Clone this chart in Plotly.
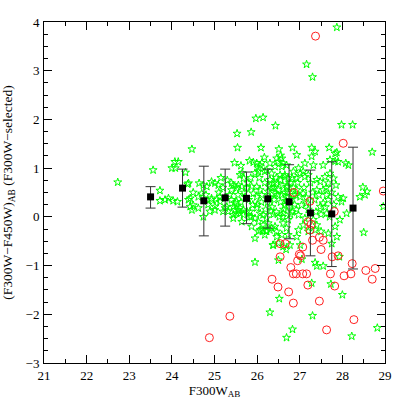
import plotly.graph_objects as go

# green asterisks: all F300W-selected objects (magnitude, colour)
star_mag = [
    22.73, 23.56, 24.47, 24.07, 24.15, 24.00, 24.08, 24.32, 23.72, 24.37, 24.64, 24.50,
    27.87, 27.16, 27.30, 25.97, 26.14, 26.43, 25.53, 25.86, 27.98, 28.24,
    25.54, 26.09, 26.51, 26.83, 27.28, 27.69, 27.87, 28.70, 26.55, 26.93, 26.17, 25.82,
    25.91, 25.47, 25.62, 28.08, 27.83,
    25.95, 26.30, 26.52, 26.83, 26.69, 27.30, 27.28, 27.73, 28.00, 28.22, 28.82, 28.50,
    26.50, 26.37, 26.68, 27.05, 27.36, 27.55, 27.40, 27.93, 26.22,
    25.99, 26.11, 26.30, 26.42, 26.46, 26.03, 26.18, 26.34, 25.60, 25.68, 25.44, 25.56,
    25.52, 25.40, 24.93, 25.01, 25.09, 24.74, 24.39, 24.70, 24.62, 24.43, 24.39, 23.72,
    23.84, 23.92, 24.03, 24.13, 24.43, 24.50, 24.62, 24.47, 24.74, 24.89, 25.01, 25.05,
    25.13, 24.93, 25.40, 25.52, 25.44, 25.56, 25.48, 25.60, 25.44, 25.25, 25.32, 25.68,
    25.76, 25.83, 25.87, 25.99, 25.95, 26.03, 25.76, 25.87, 25.91, 25.99, 26.07, 25.99,
    26.11, 26.30, 26.38, 26.34, 26.42, 26.46, 26.26, 25.72, 26.07, 26.14, 26.22, 26.26,
    26.14, 26.34, 26.46, 26.07, 26.22, 26.38, 26.50,
    26.50, 26.58, 26.69, 26.07, 26.03, 26.22, 26.54, 26.65, 26.73, 26.85, 26.93, 25.40,
    25.64, 24.82, 24.93, 25.13, 25.01, 25.20, 25.29, 25.48, 25.60, 25.52, 25.44, 25.68,
    25.64, 25.83, 25.87, 26.03, 25.95, 26.18, 26.30, 26.46, 26.61, 26.77,
    27.28, 27.36, 27.83, 28.14, 27.12, 27.32, 27.55, 27.71, 27.90, 26.61, 26.97, 27.01,
    27.08, 27.12, 27.20, 27.40, 27.48, 27.59, 27.71, 27.79, 27.67, 27.40, 27.55, 27.63,
    27.67, 27.55, 27.48, 27.90, 28.02, 27.98, 27.94, 27.83, 27.67, 28.41, 28.53, 28.58,
    26.58, 26.65, 26.69, 26.58, 26.65, 26.61, 26.73, 26.69, 26.58, 26.93, 27.01, 27.08,
    27.04, 27.16, 26.97, 27.12, 27.08, 26.97, 27.20, 27.32, 27.40, 27.36, 28.48,
    26.14, 26.42, 26.61, 26.73, 26.93, 27.01, 27.87, 28.10, 27.63, 28.96,
    26.25, 26.30, 26.35, 26.40, 26.45, 26.50, 26.55, 26.60, 26.62, 26.70, 26.72, 26.75,
    26.78, 26.80, 26.82, 26.85, 26.88, 26.90, 26.92, 26.95, 26.40, 26.45, 26.52, 26.55,
    26.28, 26.20, 26.18, 26.10, 26.05, 26.00, 26.48, 26.65, 26.68, 26.78, 26.85, 26.38,
    26.60, 26.82, 26.72, 26.32,
    27.10, 27.15, 27.20, 27.25, 27.30, 27.35, 27.38, 27.45, 27.50, 27.60, 27.62, 27.70,
    27.75, 27.80, 27.85,
    25.10, 25.20, 25.25, 25.30, 25.35, 25.55, 25.62, 25.70, 25.80, 25.85, 25.90, 25.95,
    25.78, 25.65, 25.15, 24.85, 24.80, 27.75, 27.50,
]
star_col = [
    0.71, 0.96, 1.39, 1.13, 1.13, 1.00, 1.00, 0.91, 0.54, 0.67, 0.69, 0.50,
    3.89, 3.13, 2.87, 2.02, 2.04, 1.87, 1.71, 1.74, 1.89, 1.89,
    1.42, 1.42, 1.39, 1.42, 1.42, 1.42, 1.32, 1.33, 1.26, 1.27, 1.22, 1.15,
    1.12, 1.11, 1.05, 1.10, 1.14,
    -0.93, -1.96, -1.68, -2.31, -2.48, -2.03, -1.36, -1.38, -1.60, -2.45, -2.28, -0.32,
    -0.89, -0.58, -0.67, -0.87, -0.94, -1.01, -1.01, -0.82, -0.29,
    1.10, 1.11, 1.10, 1.03, 1.20, 0.93, 0.93, 0.89, 0.86, 0.79, 0.65, 0.65,
    0.59, 0.55, 0.72, 0.69, 0.65, 0.65, 0.69, 0.48, 0.41, 0.38, 0.35, 0.33,
    0.35, 0.38, 0.33, 0.31, 0.21, 0.24, 0.18, 0.14, 0.00, 0.11, 0.14, 0.35,
    0.31, 0.35, 0.35, 0.31, 0.21, 0.14, 0.14, 0.07, 0.04, 0.18, 0.11, 0.14,
    0.11, 0.11, 0.00, 0.18, -0.03, -0.10, 0.59, 0.62, 0.48, 0.62, 0.55, 0.41,
    0.45, 0.76, 0.69, 0.59, 0.48, 0.69, 0.52, 0.41, 0.07, 0.04, -0.03, -0.13,
    -0.27, -0.23, -0.30, -0.27, -0.30, -0.58, -0.54,
    1.13, 1.03, 1.06, 1.06, 1.00, 0.96, 0.86, 0.82, 0.79, 0.93, 0.79, 0.69,
    0.62, 0.62, 0.38, 0.41, 0.21, 0.11, 0.21, 0.28, 0.18, 0.07, -0.03, 0.04,
    -0.10, 0.00, -0.20, -0.30, -0.44, -0.37, -0.27, -0.41, -0.61, -0.58,
    1.24, 1.34, 1.30, 1.06, 1.10, 1.06, 1.06, 1.17, 1.13, 1.10, 1.00, 0.89,
    0.93, 0.82, 0.86, 0.76, 0.72, 0.82, 0.89, 0.79, 0.69, 0.55, 0.55, 0.45,
    0.35, 0.28, 0.21, 0.41, 0.38, 0.31, -0.06, -0.20, -0.34, 0.41, 0.45, 0.52,
    1.20, 0.86, 0.62, 0.45, 0.24, 0.07, -0.06, -0.23, -0.37, 0.55, 0.41, 0.48,
    0.24, 0.28, 0.04, -0.03, -0.17, -0.27, -0.30, -0.06, -0.17, -0.27, 0.61,
    -0.17, -0.20, -0.13, -0.37, -0.41, -0.58, -0.41, 0.07, 0.07, 0.21,
    0.30, 0.40, 0.20, 0.35, 0.10, 0.55, 0.30, 0.65, 0.15, 0.40, 0.50, 0.20,
    0.70, 0.35, 0.10, 0.60, 0.25, 0.45, 0.15, 0.70, 0.60, 0.80, 0.00, 0.75,
    0.62, 0.15, 0.70, 0.30, 0.80, 0.25, 0.45, 0.50, 0.33, 0.05, 0.45, 0.05,
    0.00, 0.80, 0.62, 0.12,
    0.60, 0.40, 0.15, 0.70, 0.50, 0.35, 0.10, 0.45, 0.05, 0.20, 0.60, 0.00,
    0.50, 0.25, 0.65,
    0.50, 0.60, 0.40, 0.75, 0.45, 0.45, 0.30, 0.50, 0.35, 0.80, 0.25, 0.90,
    0.70, 0.90, 0.80, 0.25, 0.45, -0.55, -0.30,
]

# red open circles: the red (colour-selected) subset
circ_mag = [
    24.88, 25.36, 26.35, 26.49, 26.54, 26.54, 26.66, 26.74, 26.79, 26.85, 26.85, 26.92,
    26.95, 26.99, 27.02, 27.07, 27.07, 27.16, 27.19, 27.30, 27.24, 27.27, 27.20, 27.46,
    27.55, 27.50, 27.46, 27.63, 27.72, 27.76, 27.82, 27.90, 28.04, 28.20, 28.23, 28.27,
    28.55, 28.70, 28.77, 27.24, 27.81, 26.86, 28.96, 28.02, 27.37,
]
circ_col = [
    -2.48, -2.04, -1.28, -1.44, -0.82, -0.55, -0.55, -1.54, -1.04, -1.17, -1.77, -1.17,
    -0.90, -0.77, -0.80, -0.62, -1.17, -1.17, -1.40, -0.48, -0.27, -0.15, -0.10, -0.42,
    -0.48, -0.67, -1.73, -2.32, -1.17, -0.82, -1.42, -0.80, -1.21, -1.17, -0.96, -2.11,
    -1.10, -1.28, -1.06, 0.32, 0.11, 0.50, 0.53, 1.51, 3.71,
]

# binned means with dispersion
bin_mag = [23.5, 24.25, 24.75, 25.25, 25.75, 26.25, 26.75, 27.25, 27.75, 28.25]
bin_col = [0.41, 0.59, 0.33, 0.39, 0.38, 0.37, 0.31, 0.08, 0.06, 0.18]
bin_top = [0.62, 0.98, 1.04, 0.98, 0.92, 0.98, 1.07, 0.96, 1.13, 1.43]
bin_bot = [0.18, 0.20, -0.39, -0.19, -0.14, -0.23, -0.45, -0.80, -1.02, -1.07]

FONT = 'Liberation Serif'

fig = go.Figure()
fig.add_trace(go.Scatter(
    x=star_mag, y=star_col, mode='markers',
    marker=dict(symbol='star-open', size=6, color='#00ff00', line=dict(width=1)),
))
fig.add_trace(go.Scatter(
    x=circ_mag, y=circ_col, mode='markers',
    marker=dict(symbol='circle-open', size=8, color='#ff2020', line=dict(width=1)),
))
fig.add_trace(go.Scatter(
    x=bin_mag, y=bin_col, mode='markers',
    marker=dict(symbol='square', size=7, color='black'),
    error_y=dict(
        type='data', symmetric=False,
        array=[t - c for t, c in zip(bin_top, bin_col)],
        arrayminus=[c - b for c, b in zip(bin_col, bin_bot)],
        color='#333333', thickness=1, width=5,
    ),
))

axis_common = dict(
    showline=True, linecolor='black', linewidth=1, mirror='ticks',
    ticks='inside', ticklen=8, tickcolor='black', tickwidth=1,
    showgrid=False, zeroline=False, automargin=False,
    tickfont=dict(family=FONT, size=13, color='black'),
)
fig.update_layout(
    width=407, height=407,
    margin=dict(l=44, r=22, t=22, b=44),
    paper_bgcolor='white', plot_bgcolor='white',
    showlegend=False,
    font=dict(family=FONT, color='black'),
    xaxis=dict(
        range=[21, 29], dtick=1, tick0=21,
        minor=dict(ticks='inside', ticklen=4, dtick=0.5, tickcolor='black'),
        ticklabelstandoff=0,
        title=dict(text='F300W<sub>AB</sub>', font=dict(family=FONT, size=13), standoff=1),
        **axis_common,
    ),
    yaxis=dict(
        range=[-3, 4], dtick=1, tick0=-3,
        minor=dict(ticks='inside', ticklen=4, dtick=0.25, tickcolor='black'),
        ticklabelstandoff=1,
        title=dict(text='(F300W\u2212F450W)<sub>AB</sub> (F300W\u2212selected)',
                   font=dict(family=FONT, size=13.5), standoff=12),
        **axis_common,
    ),
)

# drop the default 8px body margin so the figure sits flush in the window
fig.write_html('out.html', config={'displayModeBar': False},
               post_script="document.body.style.margin='0px';")
